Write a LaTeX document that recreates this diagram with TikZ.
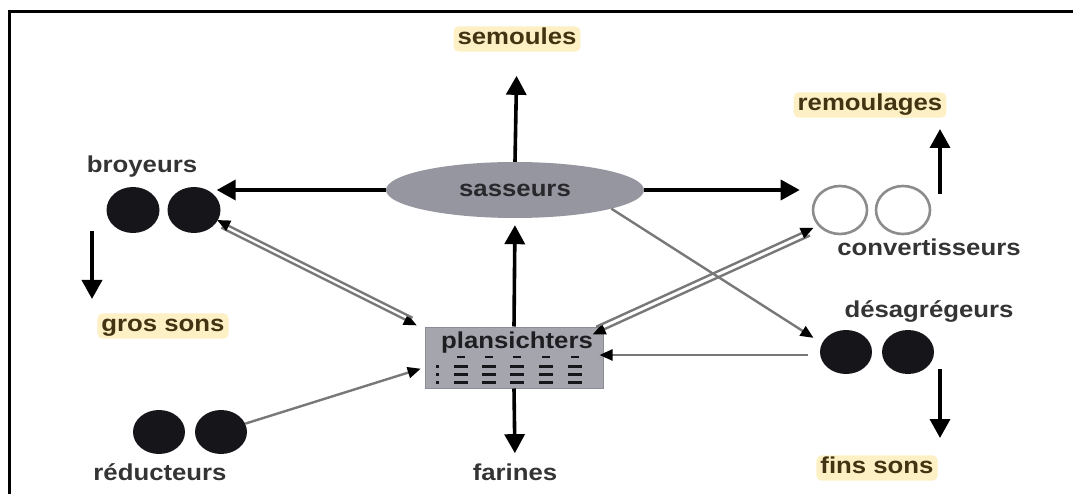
\documentclass[tikz,border=0pt]{standalone}
\usepackage{fontspec}
\setmainfont{Liberation Sans}[FakeStretch=1.12]
\usetikzlibrary{arrows.meta,calc,shapes.geometric}

\definecolor{labc}{RGB}{52,52,52}
\definecolor{outc}{RGB}{66,52,18}
\definecolor{hl}{RGB}{253,240,196}
\definecolor{machgray}{RGB}{150,150,160}
\definecolor{boxgray}{RGB}{165,165,173}
\definecolor{linegray}{RGB}{120,120,120}
\definecolor{ringgray}{RGB}{140,140,140}
\definecolor{blk}{RGB}{22,22,26}

\tikzset{
  lbl/.style={font=\bfseries\fontsize{23}{25}\selectfont, text=labc,
    text height=16.5pt, text depth=4.8pt, inner sep=2pt},
  outlbl/.style={lbl, text=outc, fill=hl, rounded corners=5pt, inner xsep=4pt},
  roll/.style={ellipse, fill=blk, minimum width=53pt, minimum height=46pt, inner sep=0pt},
  ring/.style={ellipse, fill=white, draw=ringgray, line width=2.6pt,
    minimum width=54pt, minimum height=48pt, inner sep=0pt},
  flow/.style={line width=3.6pt, black, -{Triangle[length=19pt,width=20pt]}},
  gline/.style={line width=2.4pt, linegray},
  ghead/.style={-{Triangle[length=13pt,width=11pt,color=black]}},
  gtail/.style={{Triangle[length=13pt,width=11pt,color=black]}-},
}

\begin{document}
\begin{tikzpicture}[x=1pt,y=-1pt]
\useasboundingbox (0,0) rectangle (1073,494);
% frame
\draw[line width=3pt] (9.5,520) -- (9.5,11.5) -- (1090,11.5);

% central machines
\node[ellipse, fill=machgray, minimum width=258pt, minimum height=56pt, inner sep=0pt,
      font=\bfseries\fontsize{23}{25}\selectfont, text={rgb,255:red,40;green,40;blue,44}]
      (sass) at (515,190) {sasseurs};
\node[rectangle, fill=boxgray, draw={rgb,255:red,140;green,140;blue,150}, line width=1pt,
      minimum width=178pt, minimum height=61pt, inner sep=0pt] (plan) at (514,357.5) {};
\node[lbl, text={rgb,255:red,30;green,30;blue,34}] (planL) at (517,343) {plansichters};
\begin{scope}[blk]
  \foreach \x in {461,489,517,546,575} \fill (\x-4,356) rectangle ++(8,2);
  \foreach \y in {366,374,382} {
    \fill (435.5,\y-1.5) rectangle ++(3,3);
    \foreach \x in {461,489,517,546,575} \fill (\x-7,\y-1.5) rectangle ++(14,3);
  }
\end{scope}

% roll pairs
\node[roll] (broyA) at (133,210) {};
\node[roll] (broyB) at (194,210) {};
\node[lbl] (broyL) at (142,167) {broyeurs};

\node[roll, minimum width=52pt, minimum height=44pt] (redA) at (159,432) {};
\node[roll, minimum width=52pt, minimum height=44pt] (redB) at (221,432) {};
\node[lbl] (redL) at (160,475) {réducteurs};

\node[ring] (convA) at (840,210) {};
\node[ring] (convB) at (903,210) {};
\node[lbl] (convL) at (929,250) {convertisseurs};

\node[roll, minimum width=52pt, minimum height=44pt] (desA) at (846,352) {};
\node[roll, minimum width=52pt, minimum height=44pt] (desB) at (908,352) {};
\node[lbl] (desL) at (929,312) {désagrégeurs};

% products
\node[outlbl] (sem) at (517,39) {semoules};
\node[outlbl] (rem) at (870,105) {remoulages};
\node[outlbl] (gros) at (163,326) {gros sons};
\node[outlbl] (fins) at (877,468) {fins sons};
\node[lbl] (far) at (515,475) {farines};

% free ends of the product arrows
\coordinate (broyOut) at (92,231);
\coordinate (grosIn)  at (92,299);
\coordinate (convOut) at (940,194);
\coordinate (remIn)   at (940,129);
\coordinate (desOut)  at (940,369);
\coordinate (finsIn)  at (940,438);

% main flows
\draw[flow, shorten >=24pt] (sass.north) -- (sem.south);
\draw[flow, shorten >=-4pt] (sass.west) -- (sass.west -| broyB.east);
\draw[flow, shorten >=12pt] (sass.east) -- (sass.east -| convA.west);
\draw[flow, shorten >=7pt] (plan.north) -- (sass.south);
\draw[flow, shorten >=9pt] (plan.south) -- (far.north);
\draw[flow] (broyOut) -- (grosIn);
\draw[flow] (convOut) -- (remIn);
\draw[flow] (desOut) -- (finsIn);

% broyeurs <-> plansichters
\draw[gline, ghead, shorten <=3pt, shorten >=11pt]
  ([shift={(2.1,3.8)}]broyB.-29) -- ([shift={(2.1,3.8)}]plan.north west);
\draw[gline, gtail, shorten <=3pt, shorten >=11pt]
  ([shift={(-2.1,-3.8)}]broyB.-29) -- ([shift={(-2.1,-3.8)}]plan.north west);

% convertisseurs <-> plansichters
\draw[gline, ghead, shorten <=9pt, shorten >=-10pt]
  ([shift={(-1.8,3.9)}]convA.south west) -- ([shift={(-1.8,3.9)}]plan.north east);
\draw[gline, gtail, shorten <=9pt, shorten >=-10pt]
  ([shift={(1.8,-3.9)}]convA.south west) -- ([shift={(1.8,-3.9)}]plan.north east);

% single returns
\draw[gline, ghead, shorten >=10pt] (sass.-11.5) -- (desA.160);
\draw[gline, ghead, shorten <=12pt, shorten >=-4pt]
  ([yshift=-3pt]desA.west) -- ([yshift=-3pt]desA.west -| plan.east);
\draw[gline, ghead, shorten >=4pt] (redB.19) -- ([yshift=-10pt]plan.west);
\end{tikzpicture}
\end{document}
